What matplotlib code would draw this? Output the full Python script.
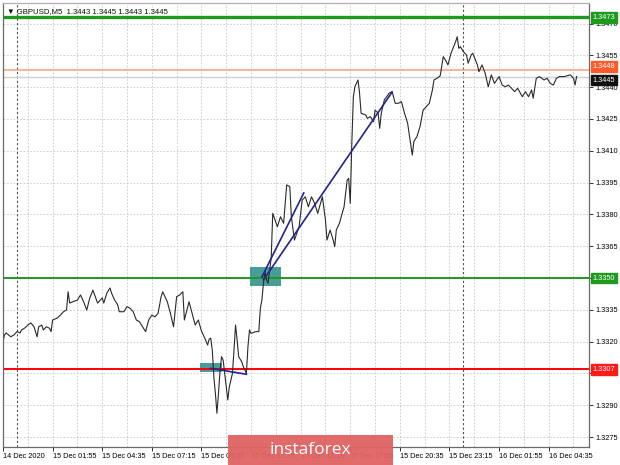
import numpy as np
import matplotlib
matplotlib.use("Agg")
import matplotlib.pyplot as plt
from matplotlib.patches import Rectangle
from matplotlib.transforms import blended_transform_factory

plt.rcParams["font.family"] = ["Liberation Sans", "DejaVu Sans"]

# GBPUSD M5, x = bar number counted from 14 Dec 23:15
bars = [0, 1, 2, 5, 7, 9, 11, 12, 14, 16, 18, 20, 22, 23, 25, 26, 28, 30, 31,
        32, 35, 37, 39, 41, 42, 43, 45, 48, 50, 52, 54, 56, 58, 61, 64, 65,
        67, 69, 70, 72, 74, 75, 78, 80, 82, 84, 86, 88, 92, 94, 96, 98, 100,
        102, 103, 106, 108, 110, 112, 114, 116, 117, 120, 122, 124, 126, 128,
        130, 132, 133, 134, 135, 136, 137, 138, 139, 140, 141, 142, 143, 144,
        145, 146, 148, 149, 150, 151, 152, 154, 155, 157, 158, 159, 160, 163,
        165, 166, 167, 168, 169, 170, 171, 172, 173, 174, 177, 179, 181, 183,
        185, 186, 188, 191, 193, 195, 197, 199, 201, 203, 206, 208, 209, 211,
        213, 214, 215, 217, 220, 222, 223, 224, 225, 226, 227, 229, 230, 231,
        234, 235, 237, 239, 240, 242, 243, 244, 246, 249, 251, 253, 255, 257,
        259, 261, 264, 265, 267, 269, 271, 273, 275, 277, 278, 280, 282, 284,
        286, 287, 289, 292, 293, 294, 295, 297, 299, 300, 302, 303, 306, 307,
        309, 311, 313, 315, 317, 320, 322, 324, 326, 328, 330, 332, 335, 337,
        339, 341, 342, 344, 346, 349, 351, 353, 355, 357, 359, 362, 366, 368,
        369, 370]
prices = [1.33200, 1.33231, 1.33241, 1.33223, 1.33231, 1.33247, 1.33241,
          1.33255, 1.33264, 1.33278, 1.33288, 1.33270, 1.33223, 1.33270,
          1.33278, 1.33255, 1.33270, 1.33263, 1.33247, 1.33302, 1.33311,
          1.33325, 1.33341, 1.33349, 1.33435, 1.33382, 1.33388, 1.33396,
          1.33420, 1.33388, 1.33349, 1.33406, 1.33443, 1.33382, 1.33406,
          1.33382, 1.33429, 1.33453, 1.33429, 1.33396, 1.33373, 1.33341,
          1.33341, 1.33365, 1.33357, 1.33341, 1.33302, 1.33294, 1.33247,
          1.33302, 1.33325, 1.33317, 1.33333, 1.33412, 1.33435, 1.33388,
          1.33333, 1.33270, 1.33412, 1.33420, 1.33435, 1.33302, 1.33388,
          1.33333, 1.33278, 1.33302, 1.33250, 1.33219, 1.33184, 1.33212,
          1.33216, 1.33160, 1.33034, 1.32956, 1.32862, 1.32956, 1.33066,
          1.33129, 1.33113, 1.33050, 1.32987, 1.32925, 1.32987, 1.33050,
          1.33160, 1.33278, 1.33208, 1.33129, 1.33105, 1.33082, 1.33050,
          1.33176, 1.33255, 1.33239, 1.33247, 1.33247, 1.33357, 1.33396,
          1.33475, 1.33530, 1.33491, 1.33475, 1.33538, 1.33594, 1.33805,
          1.33742, 1.33789, 1.33758, 1.33939, 1.33931, 1.33789, 1.33679,
          1.33742, 1.33868, 1.33883, 1.33836, 1.33883, 1.33852, 1.33805,
          1.33883, 1.33774, 1.33679, 1.33726, 1.33679, 1.33648, 1.33726,
          1.33758, 1.33836, 1.33962, 1.33970, 1.33852, 1.34135, 1.34355,
          1.34402, 1.34434, 1.34371, 1.34277, 1.34269, 1.34253, 1.34261,
          1.34237, 1.34292, 1.34277, 1.34206, 1.34277, 1.34340, 1.34371,
          1.34379, 1.34324, 1.34324, 1.34332, 1.34277, 1.34230, 1.34080,
          1.34143, 1.34167, 1.34214, 1.34292, 1.34308, 1.34324, 1.34387,
          1.34434, 1.34442, 1.34453, 1.34544, 1.34520, 1.34505, 1.34560,
          1.34615, 1.34638, 1.34583, 1.34591, 1.34567, 1.34552, 1.34513,
          1.34552, 1.34560, 1.34505, 1.34473, 1.34505, 1.34466, 1.34402,
          1.34458, 1.34418, 1.34450, 1.34410, 1.34402, 1.34410, 1.34395,
          1.34379, 1.34395, 1.34355, 1.34379, 1.34355, 1.34387, 1.34348,
          1.34442, 1.34450, 1.34434, 1.34442, 1.34418, 1.34410, 1.34442,
          1.34450, 1.34450, 1.34458, 1.34442, 1.34410, 1.34450]

# horizontal levels
levels = [1.3473, 1.3448, 1.3350, 1.3307]
level_labels = ["1.3473", "1.3448", "1.3350", "1.3307"]
level_colors = ["#1e9a1e", "#f5a07e", "#1e9a1e", "#ff0000"]
level_box_colors = ["#1e9a1e", "#ff5a2a", "#1e9a1e", "#ff1a1a"]
level_widths = [2.4, 1.1, 1.4, 1.4]
bid = 1.3445

# trade marks: zones (bar0, bar1, price_lo, price_hi) and trend lines
zones = [(159.4, 179.4, 1.33462, 1.33552), (127, 141, 1.33057, 1.33099)]
trend_lines = [((134, 157), (1.33074, 1.33046)),
               ((167, 194), (1.33505, 1.33901)),
               ((168, 251), (1.33491, 1.34377))]

price_ticks = [1.3470, 1.3455, 1.3440, 1.3425, 1.3410, 1.3395, 1.3380,
               1.3365, 1.3350, 1.3335, 1.3320, 1.3305, 1.3290, 1.3275]
time_ticks = [0, 32, 64, 96, 128, 160, 192, 224, 256, 288, 320, 352]
time_labels = ["14 Dec 2020", "15 Dec 01:55", "15 Dec 04:35", "15 Dec 07:15",
               "15 Dec 09:55", "15 Dec 12:35", "15 Dec 15:15", "15 Dec 17:55",
               "15 Dec 20:35", "15 Dec 23:15", "16 Dec 01:55", "16 Dec 04:35"]
day_breaks = [9, 297]

fig = plt.figure(figsize=(6.2, 4.65), dpi=100)
ax = fig.add_axes([3 / 620, 18 / 465, 586 / 620, 444 / 465])
ax.set_xlim(0, 378)
ax.set_ylim(1.32703, 1.34797)

# grid
for b in range(16, 378, 16):
    ax.axvline(b, color="#c8c8c8", lw=0.6, ls=(0, (2, 2)), zorder=0)
for p in price_ticks:
    ax.axhline(p, color="#c8c8c8", lw=0.6, ls=(0, (2, 2)), zorder=0)
for b in day_breaks:
    ax.axvline(b, color="#505050", lw=0.8, ls=(0, (2, 2)), zorder=0.5)

for b0, b1, lo, hi in zones:
    ax.add_patch(Rectangle((b0, lo), b1 - b0, hi - lo, color="#3f9893",
                           alpha=0.95, lw=0, zorder=1))

ax.axhline(bid, color="#d0d0d0", lw=1.0, zorder=1)
for lvl, c, w in zip(levels, level_colors, level_widths):
    ax.axhline(lvl, color=c, lw=w, zorder=1.5)

ax.plot(bars, prices, color="#2a2a2a", lw=0.8, zorder=2)

for (bx, py) in trend_lines:
    ax.plot(bx, py, color="#23238f", lw=1.2, zorder=3)

# axes look
for s in ax.spines.values():
    s.set_color("#6a6a6a")
    s.set_linewidth(0.9)
ax.spines["top"].set_color("#b0b0b0")

ax.yaxis.tick_right()
ax.set_yticks(price_ticks)
ax.set_yticklabels(["%.4f" % p for p in price_ticks])
ax.set_xticks(time_ticks)
ax.set_xticklabels(time_labels)
ax.tick_params(axis="both", labelsize=5.3, length=3, width=0.7,
               color="#303030", pad=1.5)
for lab in ax.get_xticklabels():
    lab.set_horizontalalignment("left")

trans = blended_transform_factory(ax.transAxes, ax.transData)
offsets = [0, 2.5, 0, 0]
for lvl, txt, bc, off in zip(levels, level_labels, level_box_colors, offsets):
    ax.annotate(txt, xy=(1.0, lvl), xycoords=trans, xytext=(2.5, off),
                textcoords="offset points", ha="left", va="center",
                fontsize=5.3, color="white", annotation_clip=False,
                bbox=dict(boxstyle="square,pad=0.25", fc=bc, ec=bc),
                zorder=5)
ax.annotate("%.4f" % bid, xy=(1.0, bid), xycoords=trans, xytext=(2.5, -2.5),
            textcoords="offset points", ha="left", va="center",
            fontsize=5.3, color="white", annotation_clip=False,
            bbox=dict(boxstyle="square,pad=0.25", fc="#101010", ec="#101010"),
            zorder=5)

ax.text(0.006, 0.988, "\u25bc GBPUSD,M5  1.3443 1.3445 1.3443 1.3445",
        transform=ax.transAxes, ha="left", va="top", fontsize=5.6,
        color="#101010", zorder=6)

# watermark
fig.patches.append(Rectangle((228 / 620, 0), 165 / 620, 30 / 465,
                             transform=fig.transFigure, fc="#e06262",
                             ec="none", alpha=0.95, zorder=10))
fig.text(310 / 620, 15 / 465, "instaforex", ha="center", va="center",
         fontsize=12.5, color="white", family="Open Sans", zorder=11)

fig.savefig("out.png", dpi=100)
